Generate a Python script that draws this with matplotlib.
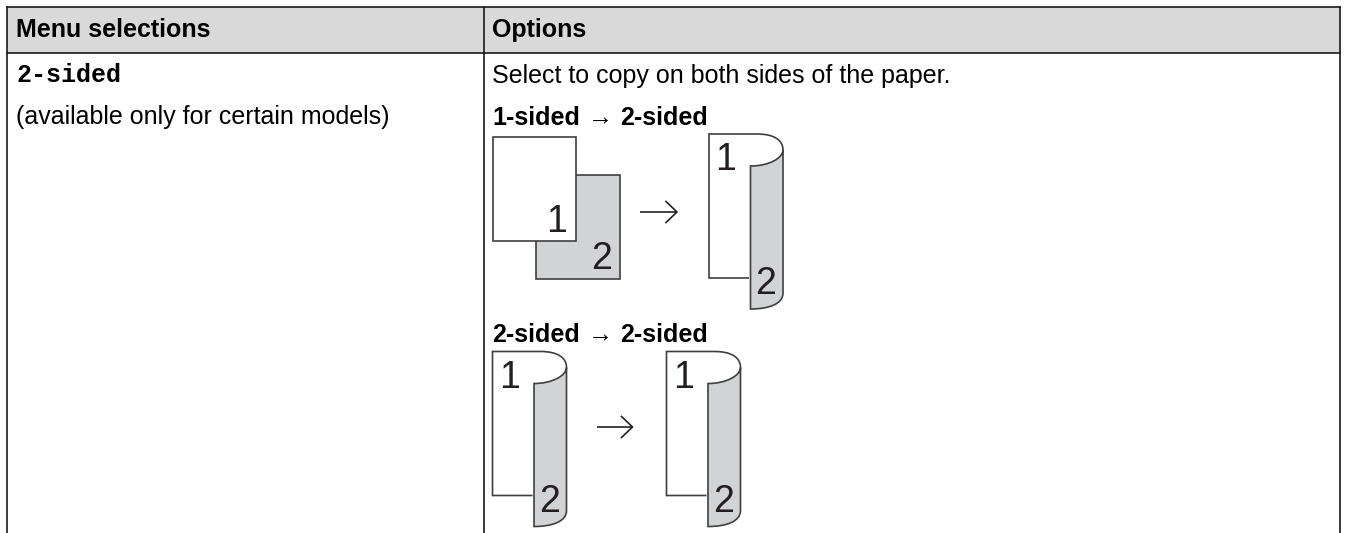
import matplotlib
matplotlib.use('Agg')
import matplotlib.pyplot as plt
from matplotlib.patches import PathPatch, Rectangle
from matplotlib.path import Path

W, H = 1346, 533
SANS = 'Liberation Sans'
MONO = 'Liberation Mono'

header_labels = ['Menu selections', 'Options']
menu_name = '2-sided'
menu_note = '(available only for certain models)'
option_text = 'Select to copy on both sides of the paper.'
section_labels = ['1-sided', '2-sided']
arrow_char = '\u2192'

LINE = '#1a1a1a'
EDGE = '#3f3f3f'
GRAY = '#d1d3d4'
HEAD = '#d9d9d9'
INK = '#231f20'
FS = 18
DIGIT = 27

fig = plt.figure(figsize=(W / 100, H / 100), dpi=100)
ax = fig.add_axes([0, 0, 1, 1])
ax.set_xlim(0, W)
ax.set_ylim(H, 0)
ax.axis('off')


def label(x, y, s, **kw):
    # y is the text baseline
    kw.setdefault('family', SANS)
    kw.setdefault('fontsize', FS)
    kw.setdefault('color', 'black')
    ax.text(x, y, s, va='baseline', **kw)


def curled_page(x, y):
    # x, y = top left corner of the white front page
    C = Path.CURVE4
    back = Path([(x + 41.5, y + 32), (x + 41.5, y + 175),
                 (x + 60, y + 175), (x + 74, y + 170), (x + 74, y + 159),
                 (x + 74, y + 16),
                 (x + 74, y + 24), (x + 60, y + 32), (x + 41.5, y + 32),
                 (x + 41.5, y + 32)],
                [Path.MOVETO, Path.LINETO, C, C, C, Path.LINETO, C, C, C, Path.CLOSEPOLY])
    ax.add_patch(PathPatch(back, fc=GRAY, ec=EDGE, lw=1.2))
    front = Path([(x + 40, y + 144), (x, y + 144), (x, y), (x + 48, y),
                  (x + 65, y), (x + 74, y + 6), (x + 74, y + 16)],
                 [Path.MOVETO, Path.LINETO, Path.LINETO, Path.LINETO, C, C, C])
    ax.add_patch(PathPatch(front, fc='none', ec=EDGE, lw=1.2))
    label(x + 17, y + 36.5, '1', fontsize=DIGIT, color=INK, ha='center')
    label(x + 57, y + 160, '2', fontsize=DIGIT, color=INK, ha='center')


def arrow(x0, x1, y):
    ax.plot([x0, x1], [y, y], color=INK, lw=1.2, solid_capstyle='butt')
    ax.plot([x1 - 11, x1, x1 - 11], [y - 10.5, y, y + 10.5], color=INK, lw=1.2)


def section(y, label0, label1):
    label(492, y, label0, weight='bold')
    label(600, y, arrow_char, ha='center')
    label(620.5, y, label1, weight='bold')


# header and table lines
ax.add_patch(Rectangle((6.5, 6.5), 1333, 46, fc=HEAD, ec='none'))
for yy in [6.5, 52.5]:
    ax.plot([6.5, 1339.5], [yy, yy], color=LINE, lw=1.2)
for xx in [6.5, 483.5, 1339.5]:
    ax.plot([xx, xx], [6.5, H], color=LINE, lw=1.2)

label(16, 37, header_labels[0], weight='bold')
label(492, 37, header_labels[1], weight='bold')
label(16, 82, menu_name, family=MONO, weight='bold')
label(16, 124, menu_note)
label(492, 83, option_text)

section(125, section_labels[0], section_labels[1])
section(342, section_labels[1], section_labels[1])

# 1-sided -> 2-sided
ax.add_patch(Rectangle((536, 175), 84, 104, fc=GRAY, ec=EDGE, lw=1.2))
ax.add_patch(Rectangle((492.5, 136.5), 83.5, 104.5, fc='white', ec=EDGE, lw=1.2))
label(557, 231.5, '1', fontsize=DIGIT, color=INK, ha='center')
label(601.5, 269, '2', fontsize=DIGIT, color=INK, ha='center')
arrow(640, 677, 212)
curled_page(709, 134)

# 2-sided -> 2-sided
curled_page(492.5, 351.5)
arrow(597, 632.5, 427)
curled_page(666.5, 351.5)

fig.savefig('out.png', dpi=100)
